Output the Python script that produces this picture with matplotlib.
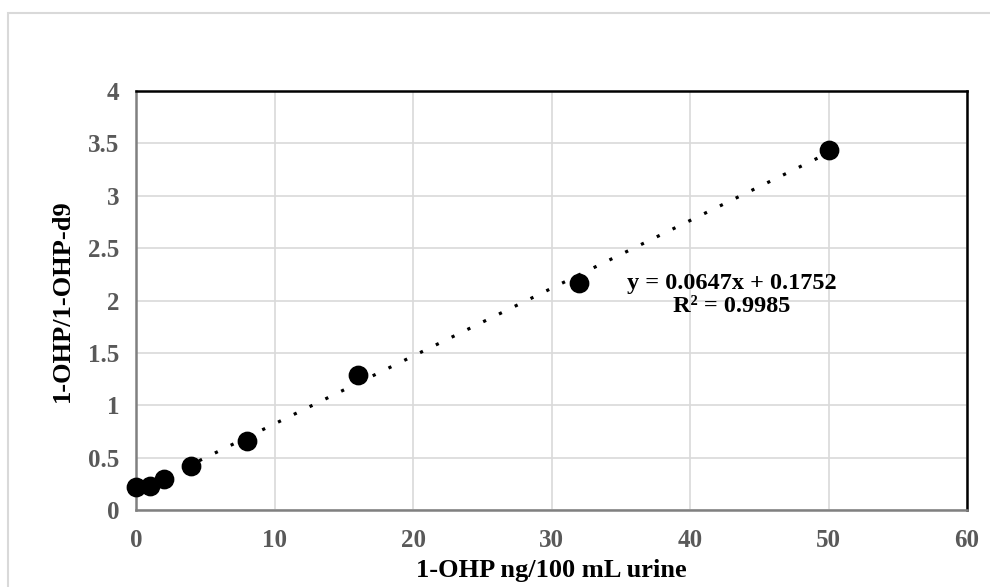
import numpy as np
import matplotlib
matplotlib.use("Agg")
import matplotlib.pyplot as plt
from matplotlib.patches import Rectangle

# calibration data
conc = [0, 1, 2, 4, 8, 16, 32, 50]
ratio = [0.22, 0.23, 0.30, 0.42, 0.66, 1.29, 2.17, 3.44]

# trendline (from the equation on the chart)
slope = 0.0647
intercept = 0.1752
eq_text = "y = 0.0647x + 0.1752\nR² = 0.9985"

x_ticks = [0, 10, 20, 30, 40, 50, 60]
y_ticks = [0, 0.5, 1, 1.5, 2, 2.5, 3, 3.5, 4]
y_tick_labels = ["0", "0.5", "1", "1.5", "2", "2.5", "3", "3.5", "4"]

plt.rcParams['font.family'] = ['Liberation Serif', 'DejaVu Serif']

fig = plt.figure(figsize=(9.9, 5.87), dpi=100)

# light gray chart-area border (runs off the right and bottom edges)
fig.patches.append(Rectangle((8 / 990, -0.05), 1.1, 1.05 - 13 / 587,
                             transform=fig.transFigure, fill=False,
                             edgecolor="#d9d9d9", linewidth=1.5))

ax = fig.add_axes([136 / 990, (587 - 510) / 587, 831 / 990, 419 / 587])

ax.set_xlim(0, 60)
ax.set_ylim(0, 4)
ax.set_xticks(x_ticks)
ax.set_yticks(y_ticks)
ax.set_yticklabels(y_tick_labels)
ax.grid(True, color="#d9d9d9", linewidth=1.2)
ax.set_axisbelow(True)

ax.tick_params(length=0, labelsize=18, labelcolor="#595959")
ax.tick_params(axis="x", pad=14)
ax.tick_params(axis="y", pad=12)
for lab in ax.get_xticklabels() + ax.get_yticklabels():
    lab.set_fontweight("bold")

ax.spines['left'].set_color("#808080")
ax.spines['bottom'].set_color("#808080")
ax.spines['top'].set_color("black")
ax.spines['right'].set_color("black")
for s in ax.spines.values():
    s.set_linewidth(1.8)

# trendline
xt = np.array([0, 50])
ax.plot(xt, slope * xt + intercept, color="black", linewidth=2.3,
        linestyle=(0, (1, 4.5)), zorder=2)

# points
ax.scatter(conc, ratio, s=175, color="black", zorder=3, clip_on=False)

ax.text(43, 2.05, eq_text, ha="center", va="center", fontsize=17.5,
        fontweight="bold", linespacing=1.12)

ax.set_xlabel("1-OHP ng/100 mL urine", fontsize=19, fontweight="bold", labelpad=5)
ax.set_ylabel("1-OHP/1-OHP-d9", fontsize=19, fontweight="bold", labelpad=10)

fig.savefig("out.png", dpi=100)
